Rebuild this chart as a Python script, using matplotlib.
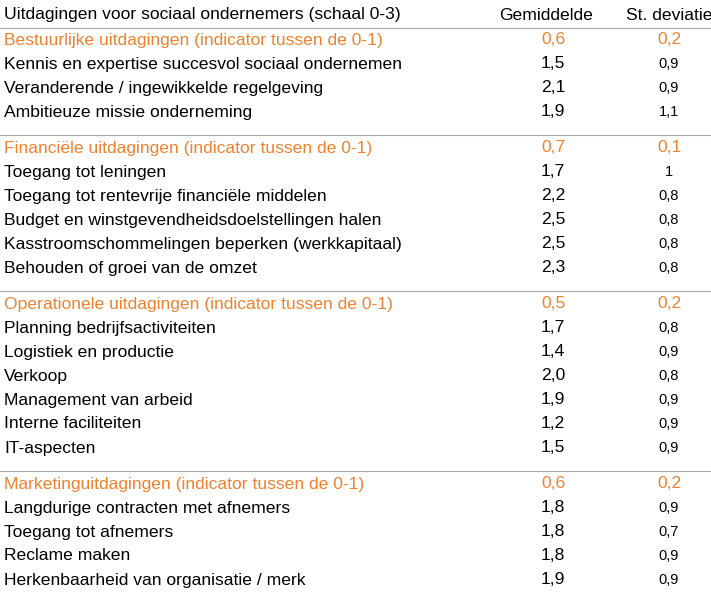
import matplotlib
matplotlib.use("Agg")
import matplotlib.pyplot as plt

# table contents
header = ["Uitdagingen voor sociaal ondernemers (schaal 0-3)", "Gemiddelde", "St. deviatie"]
groups = [
    "Bestuurlijke uitdagingen (indicator tussen de 0-1)",
    "Financiële uitdagingen (indicator tussen de 0-1)",
    "Operationele uitdagingen (indicator tussen de 0-1)",
    "Marketinguitdagingen (indicator tussen de 0-1)",
]
group_mean = ["0,6", "0,7", "0,5", "0,6"]
group_sd = ["0,2", "0,1", "0,2", "0,2"]
items = [
    ["Kennis en expertise succesvol sociaal ondernemen",
     "Veranderende / ingewikkelde regelgeving",
     "Ambitieuze missie onderneming"],
    ["Toegang tot leningen",
     "Toegang tot rentevrije financiële middelen",
     "Budget en winstgevendheidsdoelstellingen halen",
     "Kasstroomschommelingen beperken (werkkapitaal)",
     "Behouden of groei van de omzet"],
    ["Planning bedrijfsactiviteiten",
     "Logistiek en productie",
     "Verkoop",
     "Management van arbeid",
     "Interne faciliteiten",
     "IT-aspecten"],
    ["Langdurige contracten met afnemers",
     "Toegang tot afnemers",
     "Reclame maken",
     "Herkenbaarheid van organisatie / merk"],
]
item_mean = [["1,5", "2,1", "1,9"],
             ["1,7", "2,2", "2,5", "2,5", "2,3"],
             ["1,7", "1,4", "2,0", "1,9", "1,2", "1,5"],
             ["1,8", "1,8", "1,8", "1,9"]]
item_sd = [["0,9", "0,9", "1,1"],
           ["1", "0,8", "0,8", "0,8", "0,8"],
           ["0,8", "0,9", "0,8", "0,9", "0,9", "0,9"],
           ["0,9", "0,7", "0,9", "0,9"]]

orange = "#F0812F"
plt.rcParams["font.family"] = "Liberation Sans"
fig = plt.figure(figsize=(7.11, 5.93), dpi=100)
ax = fig.add_axes([0, 0, 1, 1])
ax.set_xlim(0, 711)
ax.set_ylim(593, 0)
ax.axis("off")

x_lab, x_mean, x_sd = 4, 553, 669
fs = 12.6
ax.text(x_lab, 15, header[0], fontsize=fs, va="center")
ax.text(546, 15, header[1], fontsize=fs, va="center", ha="center")
ax.text(x_sd, 15, header[2], fontsize=fs, va="center", ha="center")
ax.plot([0, 711], [28, 28], color="#aaaaaa", lw=0.8)

y = 40
for g in range(len(groups)):
    if g > 0:
        ax.plot([0, 711], [y - 13, y - 13], color="#aaaaaa", lw=0.8)
    ax.text(x_lab, y, groups[g], fontsize=fs, va="center", color=orange)
    ax.text(x_mean, y, group_mean[g], fontsize=fs, va="center", ha="center", color=orange)
    ax.text(x_sd, y, group_sd[g], fontsize=fs, va="center", ha="center", color=orange)
    y += 24
    for lab, m, s in zip(items[g], item_mean[g], item_sd[g]):
        ax.text(x_lab, y, lab, fontsize=fs, va="center")
        ax.text(x_mean, y, m, fontsize=fs, va="center", ha="center")
        ax.text(x_sd, y, s, fontsize=10.5, va="center", ha="center")
        y += 24
    y += 12

fig.savefig("out.png", dpi=100)
